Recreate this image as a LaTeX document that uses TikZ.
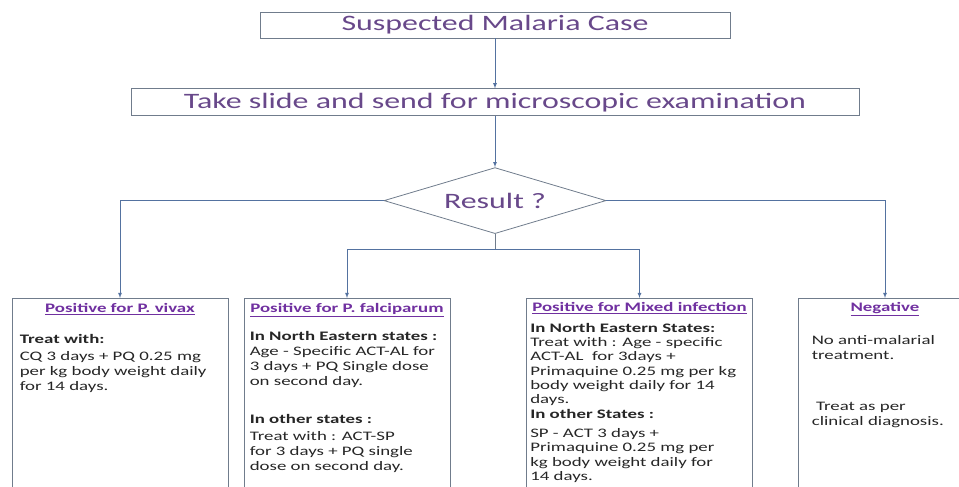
\documentclass[tikz,border=0pt]{standalone}
\usepackage{fontspec}
\setmainfont{Carlito}[FakeStretch=1.45]
\usepackage{xcolor}
\usepackage{tikz}
\usetikzlibrary{shapes.geometric, arrows, positioning}

\definecolor{titlepurple}{RGB}{104,72,138}
\definecolor{headpurple}{RGB}{112,48,160}
\definecolor{linegray}{RGB}{112,124,140}
\definecolor{arrowblue}{RGB}{84,114,160}

\begin{document}
\begin{tikzpicture}[x=1pt, y=-1pt,
    node distance=50pt,
    box/.style={rectangle, draw=linegray, line width=0.8pt, minimum height=26pt, inner sep=2pt, font=\fontsize{22}{24}\selectfont, text=titlepurple},
    decision/.style={diamond, draw=linegray, line width=0.8pt, shape aspect=3.3, minimum width=222pt, minimum height=66pt, inner sep=0pt, font=\fontsize{22}{24}\selectfont, text=titlepurple},
    outcome/.style={rectangle, draw=linegray, line width=0.8pt, anchor=north, minimum height=210pt},
    head/.style={font=\fontsize{13}{15}\selectfont\bfseries, text=headpurple, inner sep=1pt},
    body/.style={font=\fontsize{13}{15}\selectfont, align=left, inner sep=0pt, text=black!85},
    arrow/.style={->, >=latex, line width=0.8pt, arrowblue}
]
\clip (0,0) rectangle (959,487);

% =====================
% Top: case and slide
% =====================
\node[box, minimum width=470pt] (case) at (495,25) {Suspected Malaria Case};
\node[box, minimum width=728pt, minimum height=27pt, below=50pt of case] (slide) {Take slide and send for microscopic examination};
\node[decision, below=51pt of slide] (result) {Result ?};
\coordinate[below=15pt of result] (split);

% =====================
% Bottom: outcome boxes
% =====================
\node[outcome, minimum width=216pt] (vivax) at (120,298) {};
\node[outcome, minimum width=206pt] (falci) at (347,298) {};
\node[outcome, minimum width=226pt] (mixed) at (639.5,298) {};
\node[outcome, minimum width=174pt] (negative) at (885,298) {};

\node[head, below=4pt of vivax.north] (vivaxhead) {\underline{Positive for P.\ vivax}};
\node[head, below=4pt of falci.north] (falcihead) {\underline{Positive for P.\ falciparum}};
\node[head, below=3pt of mixed.north] (mixedhead) {\underline{Positive for Mixed infection}};
\node[head, below=3pt of negative.north] (negativehead) {\underline{Negative}};

\node[body, anchor=north west, below right=36pt and 8pt of vivax.north west] (vivaxtext)
    {\textbf{Treat with:}\\[2pt]
     CQ 3 days + PQ 0.25 mg\\
     per kg body weight daily\\
     for 14 days.};
\node[body, anchor=north west, below right=33pt and 6pt of falci.north west] (falcitext)
    {\textbf{In North Eastern states :}\\
     Age - Specific ACT-AL for\\
     3 days + PQ Single dose\\
     on second day.\\[23pt]
     \textbf{In other states :}\\[2pt]
     Treat with : ACT-SP\\
     for 3 days + PQ single\\
     dose on second day.};
\node[body, anchor=north west, below right=25pt and 4pt of mixed.north west, font=\fontsize{13}{14.3}\selectfont] (mixedtext)
    {\textbf{In North Eastern States:}\\
     Treat with : Age - specific\\
     ACT-AL \ for 3days +\\
     Primaquine 0.25 mg per kg\\
     body weight daily for 14\\
     days.\\
     \textbf{In other States :}\\[5pt]
     SP - ACT 3 days +\\
     Primaquine 0.25 mg per\\
     kg body weight daily for\\
     14 days.};
\node[body, anchor=north west, below right=37pt and 14pt of negative.north west] (negativetext)
    {No anti-malarial\\
     treatment.\\[36pt]
     \ Treat as per\\
     clinical diagnosis.};

% =====================
% Arrows
% =====================
\draw[arrow] (case) -- (slide);
\draw[arrow] (slide) -- (result);
\draw[arrow] (result.west) -| (vivax.north);
\draw[arrow] (result.east) -| (negative.north);
\draw[linegray, line width=0.8pt] (result.south) -- (split);
\draw[arrow] (split) -| (falci.north);
\draw[arrow] (split) -| (mixed.north);

\end{tikzpicture}
\end{document}
